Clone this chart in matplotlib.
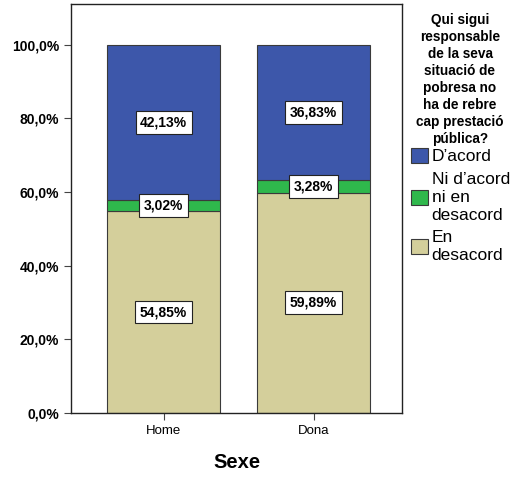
import numpy as np
import matplotlib.pyplot as plt

plt.rcParams['font.family'] = ['Liberation Sans', 'DejaVu Sans']

# dades
sexe = ["Home", "Dona"]
en_desacord = [54.85, 59.89]
ni_ni = [3.02, 3.28]
d_acord = [42.13, 36.83]
categories = ["D’acord", "Ni d’acord\nni en\ndesacord", "En\ndesacord"]
titol_llegenda = "Qui sigui\nresponsable\nde la seva\nsituació de\npobresa no\nha de rebre\ncap prestació\npública?"
colors = {"D’acord": "#3d57aa", "Ni": "#2fb84c", "En": "#d4cf9b"}
edge = "#3a3a3a"

fig = plt.figure(figsize=(5.19, 4.79), dpi=100)
ax = fig.add_axes([0.1368, 0.1378, 0.6378, 0.8539])

x = np.arange(len(sexe))
w = 0.753
b1 = ax.bar(x, en_desacord, w, color=colors["En"], edgecolor=edge, linewidth=0.8,
            label=categories[2])
b2 = ax.bar(x, ni_ni, w, bottom=en_desacord, color=colors["Ni"], edgecolor=edge,
            linewidth=0.8, label=categories[1])
bottom3 = np.array(en_desacord) + np.array(ni_ni)
b3 = ax.bar(x, d_acord, w, bottom=bottom3, color=colors["D’acord"], edgecolor=edge,
            linewidth=0.8, label=categories[0])

# etiquetes de valor
box = dict(boxstyle="square,pad=0.32", facecolor="white", edgecolor="#222222", linewidth=0.8)
for i in range(len(sexe)):
    segs = [(0, en_desacord[i]), (en_desacord[i], ni_ni[i]), (bottom3[i], d_acord[i])]
    for b, h in segs:
        ax.text(x[i], b + h / 2, f"{h:.2f}%".replace(".", ","), ha="center", va="center",
                fontsize=10, fontweight="bold", bbox=box)

ax.set_xlim(-0.617, 1.59)
ax.set_ylim(0, 111.1)
ax.set_yticks([0, 20, 40, 60, 80, 100])
ax.set_yticklabels([f"{v:.1f}%".replace(".", ",") for v in [0, 20, 40, 60, 80, 100]],
                   fontsize=10, fontweight="bold")
ax.set_xticks(x)
ax.set_xticklabels(sexe, fontsize=9.5)
ax.tick_params(axis="both", length=5, width=0.8, color="#444444")
ax.set_xlabel("Sexe", fontsize=14.5, fontweight="bold", labelpad=12)
for s in ax.spines.values():
    s.set_linewidth(1.0)
    s.set_color("#222222")

# llegenda
fig.text(460 / 519, 1 - 13 / 479, titol_llegenda, ha="center", va="top",
         multialignment="center", fontsize=9.8, fontweight="bold", linespacing=1.27)
handles = [b3, b2, b1]
leg = ax.legend(handles, categories, loc="upper left", bbox_to_anchor=(0.791, 0.691),
                bbox_transform=fig.transFigure, frameon=False, fontsize=12.5,
                handlelength=0.98, handleheight=0.92, handletextpad=0.23, labelspacing=0.42,
                borderaxespad=0, borderpad=0)
for t in leg.get_texts():
    t.set_linespacing(1.26)

fig.savefig("out.png", dpi=100)
